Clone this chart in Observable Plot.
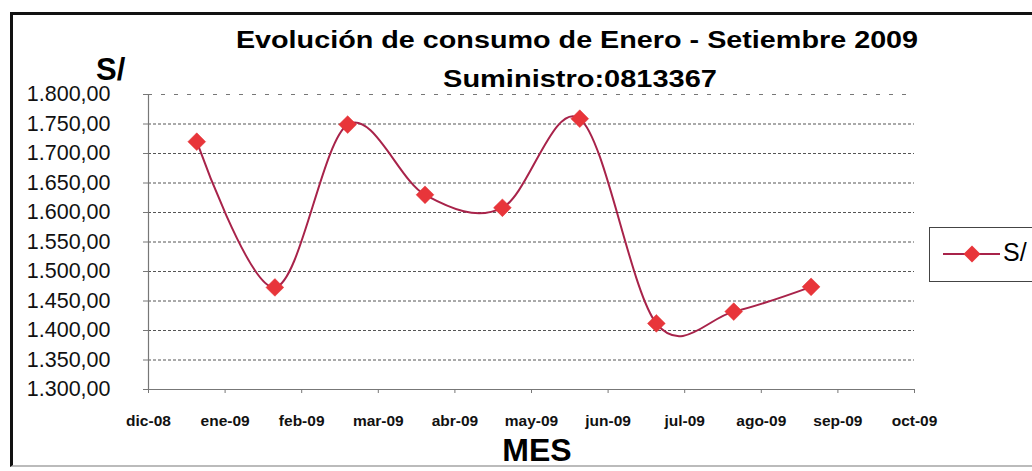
<!DOCTYPE html>
<html><head><meta charset="utf-8">
<script src="https://cdn.jsdelivr.net/npm/d3@7"></script>
<script src="https://cdn.jsdelivr.net/npm/@observablehq/plot@0.6"></script>
<style>
html,body{margin:0;padding:0;background:#fff;}
#wrap{position:relative;width:1032px;height:471px;overflow:hidden;font-family:"Liberation Sans",Arial,sans-serif;}
#frame{position:absolute;left:10px;top:12px;width:1040px;height:455px;border-left:3px solid #111;border-top:3px solid #111;border-bottom:2px solid #bbb;box-sizing:border-box;}
.t{position:absolute;white-space:nowrap;font-weight:bold;color:#000;}
#legend{position:absolute;left:929px;top:227px;width:120px;height:55px;border:1.5px solid #444;box-sizing:border-box;background:#fff;}
</style></head>
<body><div id="wrap">
<div id="frame"></div>
<div id="chart" style="position:absolute;left:0;top:0;"></div>
<div class="t" id="t1" style="left:0;width:1154px;text-align:center;top:27px;font-size:23px;transform:scaleX(1.25);transform-origin:577px 0;">Evolución de consumo de Enero - Setiembre 2009</div>
<div class="t" id="t2" style="left:0;width:1160px;text-align:center;top:66px;font-size:23px;transform:scaleX(1.26);transform-origin:580px 0;">Suministro:0813367</div>
<div class="t" style="left:96px;top:52px;font-size:31px;">S/</div>
<div class="t" style="left:437px;width:200px;text-align:center;top:432px;font-size:32px;">MES</div>
<div id="legend">
<svg width="120" height="55" style="position:absolute;left:0;top:0">
<line x1="13" y1="26" x2="70" y2="26" stroke="#a8234a" stroke-width="2"/>
<rect x="36" y="20" width="12" height="12" fill="#e8353a" transform="rotate(45 42 26)"/>
</svg>
<div style="position:absolute;left:73px;top:10px;font-size:25px;">S/</div>
</div>
</div>
<script>
const monthLabels = ["dic-08","ene-09","feb-09","mar-09","abr-09","may-09","jun-09","jul-09","ago-09","sep-09","oct-09"];
const pointPos = [0.63, 1.65, 2.6, 3.61, 4.62, 5.63, 6.63, 7.64, 8.65];
const values = [1720, 1473, 1749, 1630, 1608, 1759, 1412, 1432, 1474];
const yTicks = [1300,1350,1400,1450,1500,1550,1600,1650,1700,1750,1800];

const data = values.map((v,i)=>({x: pointPos[i], y: v}));
const loc = d3.formatLocale({decimal:",", thousands:".", grouping:[3], currency:["",""]});
const fmt = loc.format(",.2f");

const chart = Plot.plot({
  width: 1032, height: 471,
  marginLeft: 148, marginRight: 118, marginTop: 94, marginBottom: 82,
  style: {fontFamily: "'Liberation Sans', Arial, sans-serif", background: "transparent", overflow: "visible"},
  x: {domain: [0, 10], axis: null},
  y: {domain: [1300, 1800], axis: null},
  marks: [
    Plot.ruleY(yTicks.filter(d => d > 1300 && d < 1800), {stroke: "#555", strokeDasharray: "3,2", strokeWidth: 1}),
    Plot.ruleY([1800], {stroke: "#777", strokeDasharray: "4,9", strokeWidth: 1}),
    Plot.ruleX([0], {stroke: "#777", strokeWidth: 1.2}),
    Plot.ruleY([1300], {stroke: "#777", strokeWidth: 1.2}),
    Plot.axisY({ticks: yTicks, tickFormat: fmt, tickSize: 5, tickPadding: 33, stroke: "#777", fontSize: 21.5, fill: "#111", label: null}),
    Plot.axisX({ticks: d3.range(0, 11), tickFormat: i => monthLabels[i], tickSize: 4, tickPadding: 21, stroke: "#777", fontSize: 15.5, fontWeight: "bold", fill: "#111", label: null, letterSpacing: -0.6}),
    Plot.line(data, {x: "x", y: "y", curve: "cardinal", stroke: "#a8234a", strokeWidth: 2}),
    Plot.dot(data, {x: "x", y: "y", symbol: "diamond2", r: 8, fill: "#e8353a", stroke: "#e03035", strokeWidth: 0.5})
  ]
});
document.getElementById("chart").appendChild(chart);
</script>
</body></html>
